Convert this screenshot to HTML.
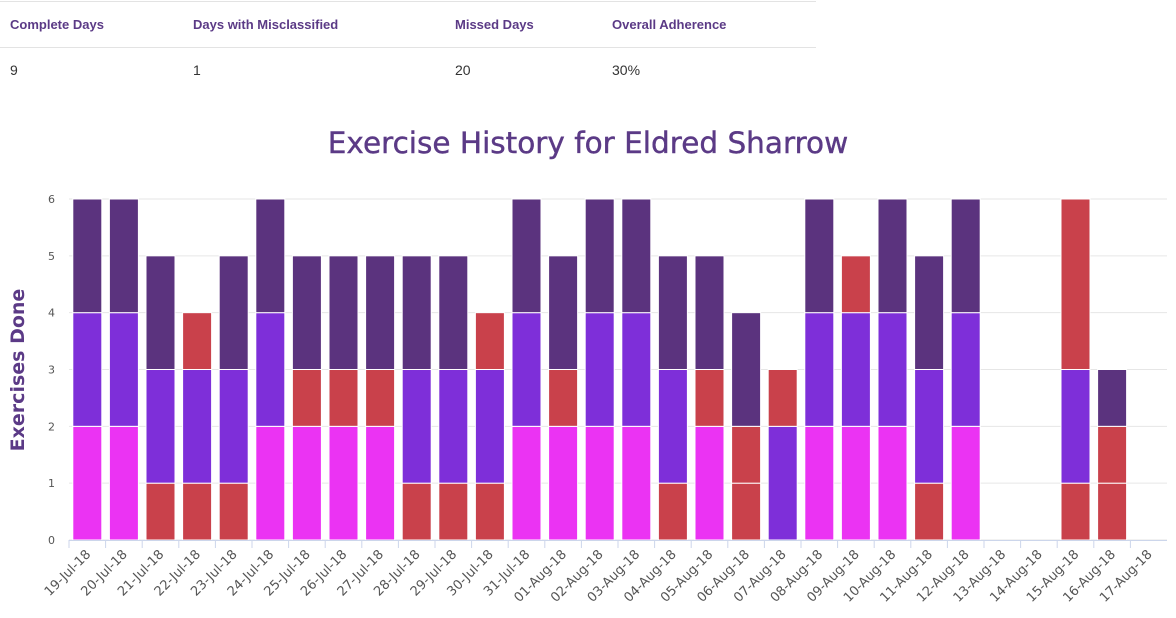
<!DOCTYPE html>
<html><head><meta charset="utf-8"><style>
body{margin:0;width:1176px;height:618px;background:#fff;font-family:"Liberation Sans",sans-serif;overflow:hidden;position:relative}
.tbl{position:absolute;left:0;top:1px;width:816px;border-top:1px solid #e3e3e3}
.row{position:relative;height:45px;border-bottom:1px solid #e3e3e3}
.row2{position:relative;height:45px}
.c{position:absolute;top:15px;font-size:13px}
.h .c{font-weight:bold;color:#5b3a86}
.row2 .c{top:14px;color:#333;font-size:14px}
</style></head><body>
<div class="tbl">
 <div class="row h">
  <span class="c" style="left:10px">Complete Days</span>
  <span class="c" style="left:193px">Days with Misclassified</span>
  <span class="c" style="left:455px">Missed Days</span>
  <span class="c" style="left:612px">Overall Adherence</span>
 </div>
 <div class="row2">
  <span class="c" style="left:10px">9</span>
  <span class="c" style="left:193px">1</span>
  <span class="c" style="left:455px">20</span>
  <span class="c" style="left:612px">30%</span>
 </div>
</div>
<svg id="chart" width="1176" height="618" style="position:absolute;left:0;top:0">
<text x="588" y="153" text-anchor="middle" font-size="29.5" fill="#5b3a86" font-family="'DejaVu Sans',sans-serif" stroke="#5b3a86" stroke-width="0.4">Exercise History for Eldred Sharrow</text>
<text transform="translate(24,370) rotate(-90)" text-anchor="middle" font-size="19" fill="#5b3a86" font-weight="bold" font-family="'DejaVu Sans',sans-serif">Exercises Done</text>
</svg>
<script>
const categories=["19-Jul-18","20-Jul-18","21-Jul-18","22-Jul-18","23-Jul-18","24-Jul-18","25-Jul-18","26-Jul-18","27-Jul-18","28-Jul-18","29-Jul-18","30-Jul-18","31-Jul-18","01-Aug-18","02-Aug-18","03-Aug-18","04-Aug-18","05-Aug-18","06-Aug-18","07-Aug-18","08-Aug-18","09-Aug-18","10-Aug-18","11-Aug-18","12-Aug-18","13-Aug-18","14-Aug-18","15-Aug-18","16-Aug-18","17-Aug-18"];
const layer1=[2,2,1,1,1,2,2,2,2,1,1,1,2,2,2,2,1,2,1,2,2,2,2,1,2,0,0,1,1,0];
const layer1Color=["p","p","r","r","r","p","p","p","p","r","r","r","p","p","p","p","r","p","r","v","p","p","p","r","p","p","p","r","r","p"];
const layer2=[2,2,2,2,2,2,1,1,1,2,2,2,2,1,2,2,2,1,1,1,2,2,2,2,2,0,0,2,1,0];
const layer2Color=["v","v","v","v","v","v","r","r","r","v","v","v","v","r","v","v","v","r","r","r","v","v","v","v","v","v","v","v","r","v"];
const layer3=[2,2,2,1,2,2,2,2,2,2,2,1,2,2,2,2,2,2,2,0,2,1,2,2,2,0,0,3,1,0];
const layer3Color=["d","d","d","r","d","d","d","d","d","d","d","r","d","d","d","d","d","d","d","d","d","r","d","d","d","d","d","r","d","d"];
const yTicks=[0,1,2,3,4,5,6];
const palette={p:"#eb33f3",v:"#7e2fd9",d:"#5b337e",r:"#c9414b"};
const svg=document.getElementById('chart');
const NS="http://www.w3.org/2000/svg";
const X0=69,X1=1167,Y0=540,Y1=199,YMAX=6;
const bw=(X1-X0)/categories.length;
const y=v=>Y0-(v/YMAX)*(Y0-Y1);
const x=i=>X0+i*bw;
function mk(t,a){const e=document.createElementNS(NS,t);for(const k in a)e.setAttribute(k,a[k]);svg.appendChild(e);return e;}
yTicks.forEach(t=>{
 const g=mk('line',{x1:X0,x2:X1,y1:y(t),y2:y(t),stroke:'#e6e6e6','stroke-width':1});
 
 
 const l=mk('text',{x:55,y:y(t)+4,'text-anchor':'end','font-size':11,fill:'#555','font-family':"'DejaVu Sans',sans-serif"});
 l.textContent=t;
 
 
});
const layers=[[layer1,layer1Color],[layer2,layer2Color],[layer3,layer3Color]];
categories.forEach((c,i)=>{
 let base=0;
 layers.forEach(([vals,cols],li)=>{
  const v=vals[i];
  if(v>0){
   const r=mk('rect',{x:x(i)+3.8,y:y(base+v),width:bw-7.6,height:y(base)-y(base+v),fill:palette[cols[i]],stroke:'#fff','stroke-width':1});
   
   
  }
  base+=v;
 });
 const tk=mk('line',{x1:x(i),x2:x(i),y1:Y0,y2:Y0+8,stroke:'#ccd6eb'});
 
 
 const cx=x(i)+bw/2+4, cy=Y0+15;
 const t=mk('text',{x:cx,y:cy,'text-anchor':'end','font-size':13,fill:'#555','font-family':"'DejaVu Sans',sans-serif",transform:`rotate(-45 ${cx} ${cy})`});
 t.textContent=c;
 
 
});
const ax=mk('line',{x1:X0,x2:X1,y1:Y0+0.5,y2:Y0+0.5,stroke:'#ccd6eb'});


</script>
</body></html>
